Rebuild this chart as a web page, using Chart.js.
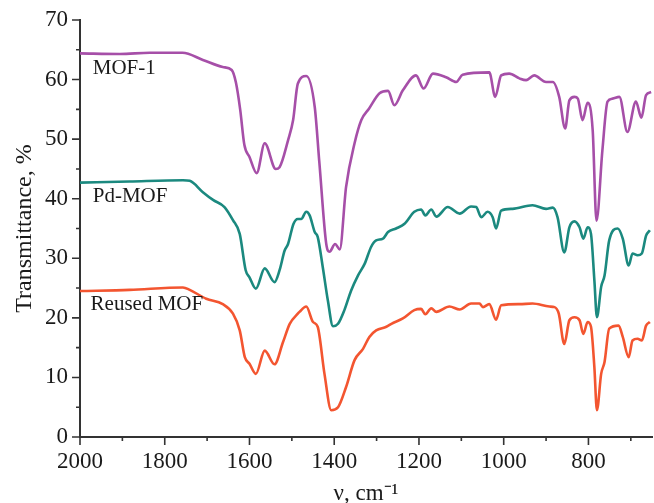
<!DOCTYPE html>
<html>
<head>
<meta charset="utf-8">
<script src="https://cdn.jsdelivr.net/npm/chart.js@4.4.0/dist/chart.umd.min.js"></script>
<style>
  html, body { margin: 0; padding: 0; background: #fff; }
  #wrap { width: 654px; height: 503px; }
</style>
</head>
<body>
<div id="wrap"><canvas id="irChart" width="654" height="503"></canvas></div>
<script>
// IR spectra, [wavenumber cm-1, transmittance %]
var mof1 = [[2000,64.4],[1906,64.3],[1835,64.5],[1758,64.5],[1710,63.3],[1663,62.1],[1642,61.6],[1632,59.5],[1622,55.0],[1612,49.0],[1600,47.0],[1583,44.3],[1564,49.3],[1538,45.0],[1529,45.3],[1509,49.8],[1497,53.2],[1486,59.3],[1466,60.6],[1446,55.4],[1435,46.0],[1419,32.5],[1411,31.1],[1398,32.4],[1387,31.5],[1372,42.0],[1352,49.3],[1336,53.2],[1318,55.1],[1293,57.7],[1273,58.1],[1258,55.7],[1238,58.2],[1207,60.7],[1189,58.5],[1167,61.0],[1136,60.4],[1112,59.6],[1097,60.8],[1034,61.2],[1020,57.1],[1006,60.7],[987,61.0],[963,60.2],[947,59.9],[928,60.7],[900,59.6],[884,59.6],[869,57.1],[855,51.8],[845,56.5],[833,57.1],[825,56.8],[814,53.2],[802,56.1],[790,51.5],[781,36.3],[767,48.2],[755,56.3],[743,56.8],[727,57.1],[708,51.2],[688,56.3],[675,53.6],[664,57.4],[652,57.9]];

var pdMof = [[2000,42.7],[1883,42.9],[1757,43.1],[1741,43.0],[1710,41.1],[1686,39.8],[1659,38.6],[1639,36.4],[1623,34.1],[1609,28.0],[1600,26.8],[1585,24.9],[1564,28.3],[1541,26.0],[1529,28.0],[1517,31.3],[1509,32.4],[1496,35.8],[1486,36.6],[1478,36.6],[1466,37.8],[1458,37.2],[1446,34.4],[1439,33.6],[1427,28.5],[1415,22.9],[1403,18.6],[1391,19.0],[1376,21.3],[1360,24.6],[1344,27.1],[1328,29.1],[1313,31.9],[1301,33.0],[1285,33.3],[1273,34.4],[1254,35.0],[1234,35.8],[1211,37.8],[1195,38.2],[1185,37.2],[1171,38.2],[1159,37.0],[1132,38.6],[1104,37.5],[1077,38.7],[1065,38.6],[1053,36.9],[1038,37.8],[1026,36.9],[1018,35.0],[1006,38.0],[979,38.3],[932,38.9],[900,38.3],[884,38.5],[873,36.9],[857,31.0],[845,35.2],[833,36.2],[821,35.2],[812,33.3],[802,35.2],[794,34.1],[786,26.3],[780,20.1],[770,25.2],[762,27.1],[751,33.0],[731,35.0],[719,33.3],[705,28.8],[696,30.8],[684,30.5],[674,30.8],[664,33.8],[655,34.7]];

var reusedMof = [[2000,24.5],[1883,24.7],[1757,25.1],[1741,24.7],[1702,23.2],[1663,22.3],[1639,20.7],[1623,17.9],[1611,13.4],[1600,12.3],[1585,10.6],[1564,14.5],[1541,12.2],[1521,15.9],[1505,19.0],[1486,20.7],[1482,21.0],[1466,21.9],[1450,19.3],[1439,18.5],[1423,10.6],[1407,4.5],[1391,5.0],[1372,8.4],[1352,12.9],[1332,14.8],[1317,16.8],[1301,17.9],[1277,18.5],[1265,19.0],[1238,19.9],[1211,21.3],[1195,21.5],[1185,20.6],[1171,21.6],[1159,21.0],[1128,21.9],[1104,21.4],[1077,22.4],[1057,22.4],[1049,21.8],[1034,22.3],[1018,19.7],[1006,22.1],[963,22.3],[932,22.4],[892,21.9],[880,21.8],[870,20.7],[857,15.6],[845,19.6],[833,20.1],[821,19.6],[812,17.3],[802,19.3],[794,18.5],[786,11.7],[780,4.5],[770,10.6],[762,12.6],[751,18.2],[729,18.7],[719,16.8],[705,13.4],[696,16.2],[684,16.5],[674,16.2],[664,18.7],[655,19.3]];

var seriesNames = ['MOF-1', 'Pd-MOF', 'Reused MOF'];
var seriesColors = ['#a64fa8', '#1b897f', '#f35530'];
// where each curve name sits, in data units [wavenumber, transmittance]
var labelAnchors = [[1970, 61.8], [1970, 40.3], [1975, 22.2]];

var xMin = 650, xMax = 2000;
var yMin = 0, yMax = 70;

var serif = "'Liberation Serif', 'Times New Roman', serif";

function toPoints(arr) {
    return arr.map(function (p) { return { x: p[0], y: p[1] }; });
}

// tick marks: long on labelled values, short in between
var tickMarks = {
    id: 'tickMarks',
    afterDraw: function (chart) {
        var ctx = chart.ctx;
        var area = chart.chartArea;
        var xs = chart.scales.x, ys = chart.scales.y;
        ctx.save();
        ctx.strokeStyle = '#333';
        ctx.lineWidth = 1.6;
        ctx.beginPath();
        xs.ticks.forEach(function (t) {
            var px = xs.getPixelForValue(t.value);
            var len = t.value % 200 === 0 ? 8 : 4;
            ctx.moveTo(px, area.bottom);
            ctx.lineTo(px, area.bottom + len);
        });
        ys.ticks.forEach(function (t) {
            var py = ys.getPixelForValue(t.value);
            var len = t.value % 10 === 0 ? 8 : 4;
            ctx.moveTo(area.left, py);
            ctx.lineTo(area.left - len, py);
        });
        ctx.stroke();
        ctx.restore();
    }
};

// curve names next to each spectrum
var curveLabels = {
    id: 'curveLabels',
    afterDatasetsDraw: function (chart) {
        var ctx = chart.ctx;
        ctx.save();
        ctx.font = '21px ' + serif;
        ctx.fillStyle = '#1a1a1a';
        ctx.textBaseline = 'middle';
        ctx.textAlign = 'left';
        labelAnchors.forEach(function (a, i) {
            ctx.fillText(seriesNames[i],
                chart.scales.x.getPixelForValue(a[0]),
                chart.scales.y.getPixelForValue(a[1]));
        });
        ctx.restore();
    }
};

var ctx = document.getElementById('irChart');
var irChart = new Chart(ctx, {
    type: 'line',
    data: {
        datasets: [mof1, pdMof, reusedMof].map(function (s, i) {
            return {
                label: seriesNames[i],
                data: toPoints(s),
                borderColor: seriesColors[i],
                backgroundColor: seriesColors[i],
                borderWidth: 2.6,
                pointRadius: 0,
                cubicInterpolationMode: 'monotone',
                fill: false
            };
        })
    },
    options: {
        responsive: false,
        animation: false,
        layout: { padding: { top: 20, right: 2, left: 0, bottom: 0 } },
        plugins: {
            legend: { display: false },
            tooltip: { enabled: false }
        },
        scales: {
            x: {
                type: 'linear',
                reverse: true,
                min: xMin,
                max: xMax,
                afterFit: function (scale) { scale.height = 66; },
                border: { display: true, color: '#333', width: 2 },
                grid: { display: true, drawOnChartArea: false, drawTicks: true, tickLength: 8, tickColor: 'rgba(0,0,0,0)' },
                ticks: {
                    stepSize: 100,
                    includeBounds: false,
                    autoSkip: false,
                    maxRotation: 0,
                    padding: 3,
                    color: '#1a1a1a',
                    font: { family: serif, size: 23 },
                    callback: function (v) { return v % 200 === 0 ? String(v) : ''; }
                },
                title: {
                    display: true,
                    text: 'ν, cm⁻¹',
                    color: '#1a1a1a',
                    font: { family: serif, size: 23, lineHeight: 0.8 },
                    padding: { top: 0, bottom: 0 }
                }
            },
            y: {
                min: yMin,
                max: yMax,
                afterFit: function (scale) { scale.width = 80; },
                border: { display: true, color: '#333', width: 2 },
                grid: { display: true, drawOnChartArea: false, drawTicks: true, tickLength: 8, tickColor: 'rgba(0,0,0,0)' },
                ticks: {
                    stepSize: 5,
                    autoSkip: false,
                    padding: 4,
                    color: '#1a1a1a',
                    font: { family: serif, size: 23 },
                    callback: function (v) { return v % 10 === 0 ? String(v) : ''; }
                },
                title: {
                    display: true,
                    text: 'Transmittance, %',
                    color: '#1a1a1a',
                    font: { family: serif, size: 24, lineHeight: 1.2 },
                    padding: { top: 10, bottom: 0 }
                }
            }
        }
    },
    plugins: [tickMarks, curveLabels]
});
</script>
</body>
</html>
